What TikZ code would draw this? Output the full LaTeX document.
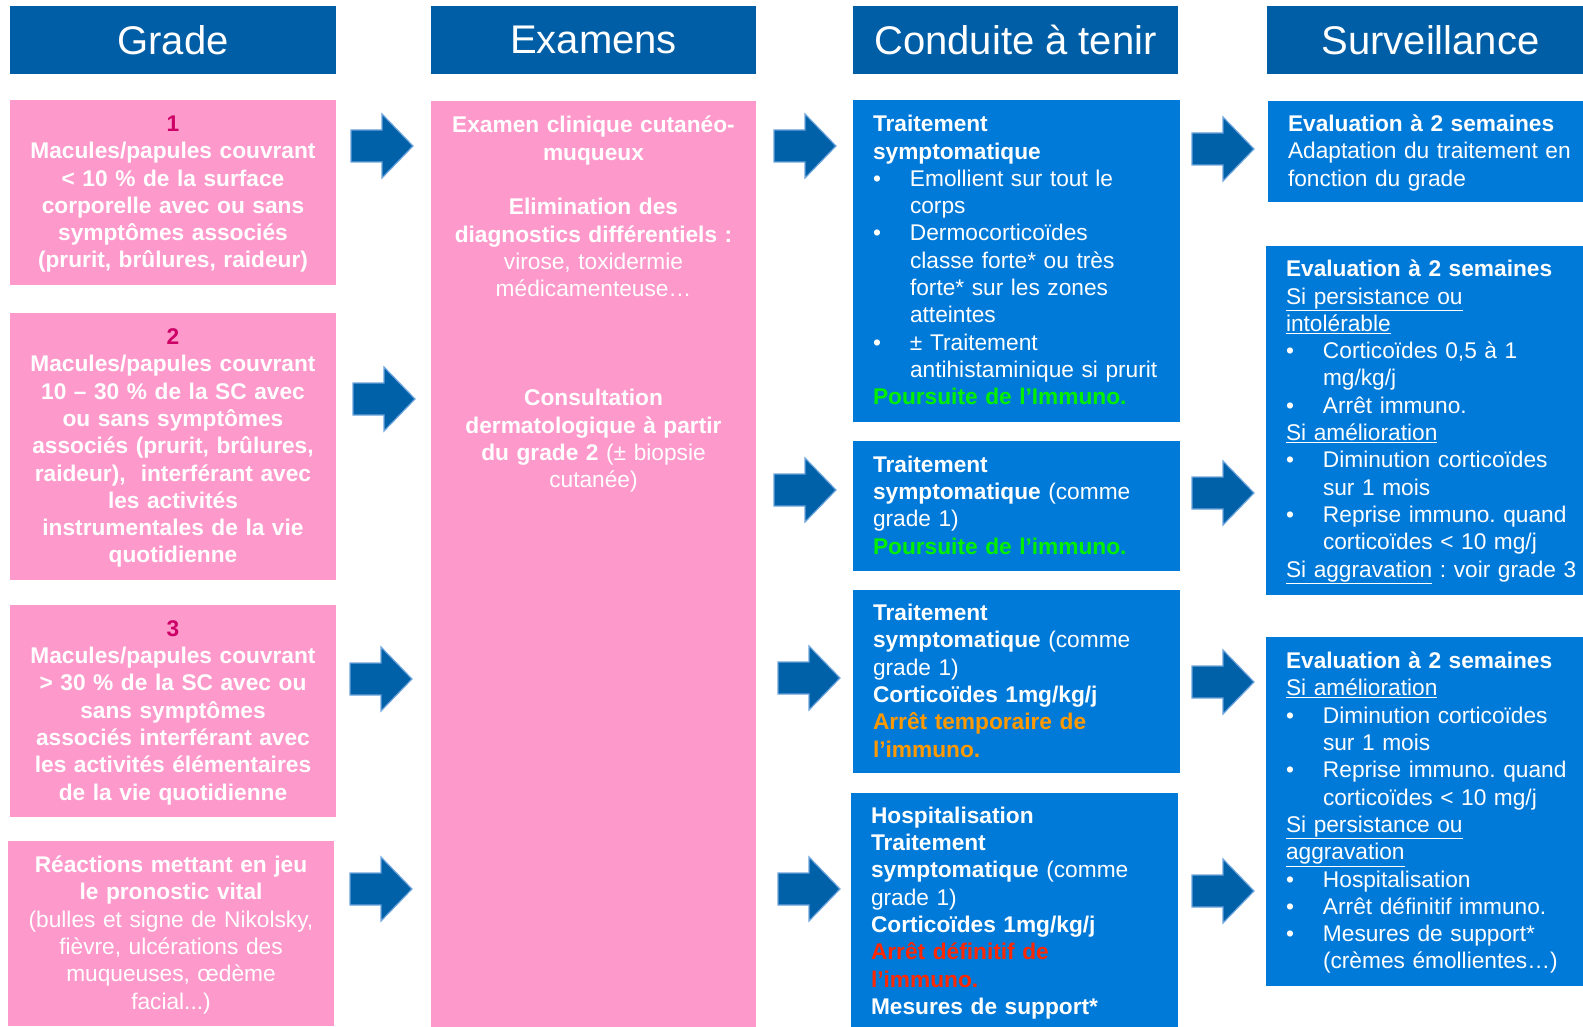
\documentclass[tikz,border=0pt]{standalone}
\usepackage{fontspec}
\setmainfont{Liberation Sans}
\usepackage{xcolor}
\usetikzlibrary{positioning}
\definecolor{hdrblue}{RGB}{0,94,166}
\definecolor{boxpink}{RGB}{254,153,203}
\definecolor{boxblue}{RGB}{0,122,217}
\definecolor{numpink}{RGB}{204,0,102}
\definecolor{okgreen}{RGB}{0,240,0}
\definecolor{warnorange}{RGB}{255,153,0}
\definecolor{stopred}{RGB}{255,40,0}
\definecolor{arrowblue}{RGB}{0,96,168}
\definecolor{arrowedge}{RGB}{110,165,220}
\frenchspacing
\newcommand{\txtsize}{\fontsize{22.7}{27.3}\selectfont}
\newcommand{\itm}[1]{\makebox[37pt][l]{\textbullet}#1}
\newcommand{\cnt}[1]{\hspace*{37pt}#1}
\tikzset{
  hdr/.style={fill=hdrblue, text=white, font=\fontsize{40}{48}\selectfont, minimum height=68pt, inner sep=0pt, outer sep=0pt},
  lines/.style={execute at begin node={\rule{0pt}{19.5pt}}, execute at end node={\rule[-5pt]{0pt}{0pt}}},
  gradebox/.style={lines, fill=boxpink, text=white, font=\txtsize\bfseries, align=center, text width=316pt, minimum width=326pt, inner xsep=5pt, inner ysep=0pt, outer sep=0pt, anchor=north west},
  exbox/.style={fill=boxpink, minimum width=325pt, inner sep=0pt, outer sep=0pt, anchor=north west},
  extext/.style={text=white, font=\txtsize, align=center, text width=315pt, inner sep=0pt, anchor=north},
  ctbox/.style={lines, fill=boxblue, text=white, font=\txtsize, align=left, text width=287pt, minimum width=327pt, inner xsep=20pt, inner ysep=0pt, outer sep=0pt, anchor=north west},
  svbox/.style={ctbox, text width=300pt, minimum width=340pt},
  blkarrow/.pic={\filldraw[fill=arrowblue, draw=arrowedge, line width=1.2pt] (0,-16) -- (31,-16) -- (31,-32) -- (62,0) -- (31,32) -- (31,16) -- (0,16) -- cycle;}
}
\begin{document}
\begin{tikzpicture}[x=1pt,y=-1pt]
\useasboundingbox (0,0) rectangle (1583,1027);
\fill[white] (0,0) rectangle (1583,1027);
% headers
\node[hdr, minimum width=326pt] (hgrade) at (173,40) {Grade};
\node[hdr, minimum width=325pt] (hexam) at (593.5,40) {Examens};
\node[hdr, minimum width=325pt] (hcond) at (1015.5,40) {Conduite à tenir};
\node[hdr, minimum width=327pt] (hsurv) at (1430.5,40.5) {Surveillance};
% grades
\node[gradebox, minimum height=185pt] (g1) at (10,100) {\textcolor{numpink}{1}\\Macules/papules couvrant\\< 10 \% de la surface\\corporelle avec ou sans\\symptômes associés\\(prurit, brûlures, raideur)};
\node[gradebox, minimum height=267pt] (g2) at (10,313) {\textcolor{numpink}{2}\\Macules/papules couvrant\\10 – 30 \% de la SC avec\\ou sans symptômes\\associés (prurit, brûlures,\\raideur),~ interférant avec\\les activités\\instrumentales de la vie\\quotidienne};
\node[gradebox, minimum height=212pt] (g3) at (10,605) {\textcolor{numpink}{3}\\Macules/papules couvrant\\> 30 \% de la SC avec ou\\sans symptômes\\associés interférant avec\\les activités élémentaires\\de la vie quotidienne};
\node[gradebox, minimum height=185pt] (g4) at (8,841) {Réactions mettant en jeu\\le pronostic vital\\\textmd{(bulles et signe de Nikolsky,}\\\textmd{fièvre, ulcérations des}\\\textmd{muqueuses, œdème}\\\textmd{facial...)}};
% examens
\node[exbox, minimum height=935pt] (ex) at (431,101) {};
\node[extext, below=15pt of ex.north] (extxt) {\textbf{Examen clinique cutanéo-}\\\textbf{muqueux}\\[27.3pt]\textbf{Elimination des}\\\textbf{diagnostics différentiels :}\\virose, toxidermie\\médicamenteuse…\\[81.9pt]\textbf{Consultation}\\\textbf{dermatologique à partir}\\\textbf{du grade 2} (± biopsie\\cutanée)};
% conduite a tenir
\node[ctbox, minimum height=322pt] (c1) at (853,100) {\textbf{Traitement}\\\textbf{symptomatique}\\\itm{Emollient sur tout le}\\\cnt{corps}\\\itm{Dermocorticoïdes}\\\cnt{classe forte* ou très}\\\cnt{forte* sur les zones}\\\cnt{atteintes}\\\itm{± Traitement}\\\cnt{antihistaminique si prurit}\\\textcolor{okgreen}{\textbf{Poursuite de l’Immuno.}}};
\node[ctbox, minimum height=130pt] (c2) at (853,441) {\textbf{Traitement}\\\textbf{symptomatique} (comme\\grade 1)\\\textcolor{okgreen}{\textbf{Poursuite de l’immuno.}}};
\node[ctbox, minimum height=183pt] (c3) at (853,590) {\textbf{Traitement}\\\textbf{symptomatique} (comme\\grade 1)\\\textbf{Corticoïdes 1mg/kg/j}\\\textcolor{warnorange}{\textbf{Arrêt temporaire de}}\\\textcolor{warnorange}{\textbf{l’immuno.}}};
\node[ctbox, minimum height=237pt] (c4) at (851,793) {\textbf{Hospitalisation}\\\textbf{Traitement}\\\textbf{symptomatique} (comme\\grade 1)\\\textbf{Corticoïdes 1mg/kg/j}\\\textcolor{stopred}{\textbf{Arrêt définitif de}}\\\textcolor{stopred}{\textbf{l’immuno.}}\\\textbf{Mesures de support*}};
% surveillance
\node[svbox, minimum height=101pt] (s1) at (1268,101) {\textbf{Evaluation à 2 semaines}\\Adaptation du traitement en\\fonction du grade};
\node[svbox, minimum height=349pt] (s2) at (1266,246) {\textbf{Evaluation à 2 semaines}\\\underline{Si persistance ou}\\\underline{intolérable}\\\itm{Corticoïdes 0,5 à 1}\\\cnt{mg/kg/j}\\\itm{Arrêt immuno.}\\\underline{Si amélioration}\\\itm{Diminution corticoïdes}\\\cnt{sur 1 mois}\\\itm{Reprise immuno. quand}\\\cnt{corticoïdes < 10 mg/j}\\\underline{Si aggravation} : voir grade 3};
\node[svbox, minimum height=349pt] (s3) at (1266,637) {\textbf{Evaluation à 2 semaines}\\\underline{Si amélioration}\\\itm{Diminution corticoïdes}\\\cnt{sur 1 mois}\\\itm{Reprise immuno. quand}\\\cnt{corticoïdes < 10 mg/j}\\\underline{Si persistance ou}\\\underline{aggravation}\\\itm{Hospitalisation}\\\itm{Arrêt définitif immuno.}\\\itm{Mesures de support*}\\\cnt{(crèmes émollientes…)}};
% arrows
\pic at (351,146) {blkarrow};
\pic at (353,399) {blkarrow};
\pic at (350,679) {blkarrow};
\pic at (350,889) {blkarrow};
\pic at (774,146) {blkarrow};
\pic at (774,490) {blkarrow};
\pic at (778,678) {blkarrow};
\pic at (778,889) {blkarrow};
\pic at (1192,149) {blkarrow};
\pic at (1192,493) {blkarrow};
\pic at (1192,682) {blkarrow};
\pic at (1192,891) {blkarrow};
\end{tikzpicture}
\end{document}
